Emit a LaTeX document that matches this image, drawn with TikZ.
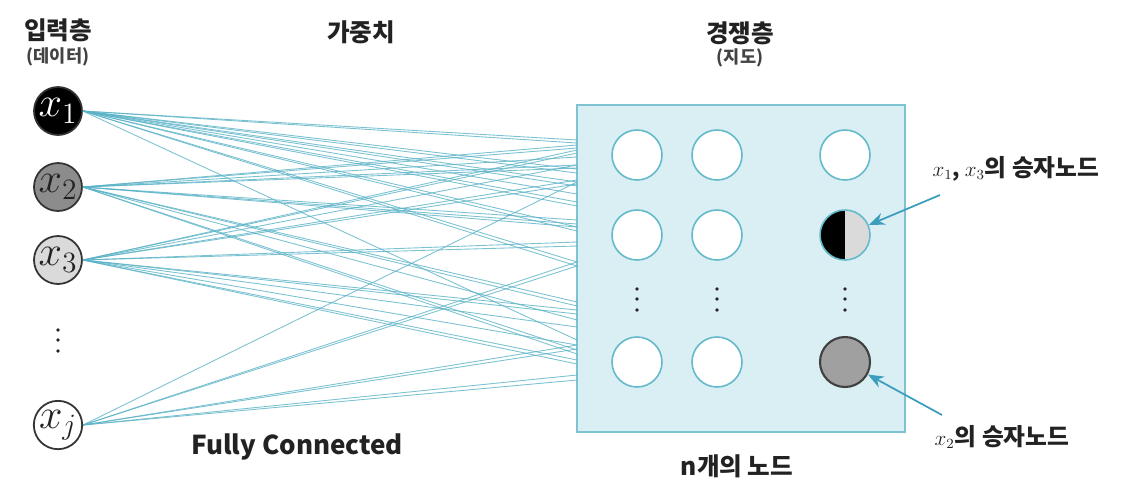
\RequirePackage{fix-cm}
\documentclass[tikz,border=0pt]{standalone}
\usepackage{fontspec}
\newfontfamily\kr{Noto Sans CJK KR}
\usetikzlibrary{arrows.meta}
\definecolor{wire}{RGB}{90,178,198}
\definecolor{boxfill}{RGB}{218,239,243}
\definecolor{boxline}{RGB}{125,195,210}
\definecolor{ring}{RGB}{100,185,202}
\definecolor{txt}{RGB}{34,34,34}
\definecolor{midgray}{RGB}{140,140,140}
\definecolor{lightg}{RGB}{218,218,218}
\definecolor{wingray}{RGB}{160,160,160}
\definecolor{ptr}{RGB}{60,158,190}
\tikzset{
  inp/.style={circle,draw=black!80,line width=1pt,minimum size=0.96cm,inner sep=0pt,font=\fontsize{24}{24}\selectfont},
  neuron/.style={circle,draw=ring,line width=0.9pt,fill=white,minimum size=1cm,inner sep=0pt},
  wireline/.style={draw=wire,line width=0.5pt,opacity=0.8},
  title/.style={font=\kr\bfseries\fontsize{14}{16}\selectfont,text=txt},
  sub/.style={font=\kr\bfseries\fontsize{10}{12}\selectfont,text=txt!85},
  pointer/.style={draw=ptr,line width=1pt,-{Stealth[length=9pt,width=7pt]}},
  dotmark/.style={fill=black!85}
}
\begin{document}
\begin{tikzpicture}[x=0.02cm,y=-0.02cm]
\useasboundingbox (0,0) rectangle (1128,488);
% box
\node[draw=boxline,fill=boxfill,line width=1pt,minimum width=6.56cm,minimum height=6.54cm,inner sep=0pt] (box) at (741,268.5) {};
% targets on box left edge
\foreach \t in {130,...,390}{
  \coordinate (t\t) at (577,\t);
}
% input nodes
\node[inp,fill=black,text=white] (x1) at (58,111) {$x_1$};
\node[inp,fill=midgray,text=txt] (x2) at (58,187) {$x_2$};
\node[inp,fill=lightg,text=txt] (x3) at (58,260) {$x_3$};
\node[inp,fill=white,text=txt] (xj) at (58,425) {$x_j$};
% wires
\foreach \t in {140,143,169,173,182,186,194,202,206,227,231,262,266,340}{\draw[wireline] (x1.east) -- (t\t);}
\foreach \t in {145,148,157,165,168,220,224,227,302,306,320,350,354}{\draw[wireline] (x2.east) -- (t\t);}
\foreach \t in {150,153,165,180,184,242,246,310,314,327,345,360,364}{\draw[wireline] (x3.east) -- (t\t);}
\foreach \t in {182,262,266,345,349,375,380}{\draw[wireline] (xj.east) -- (t\t);}
% dots input
\foreach \yy in {330,340,351}{\fill[dotmark] (58,\yy) circle[radius=1.9];}
% grid neurons
\node[neuron] (n11) at (637,155) {};
\node[neuron] (n12) at (717,155) {};
\node[neuron] (n13) at (845,155) {};
\node[neuron] (n21) at (637,235) {};
\node[neuron] (n22) at (717,235) {};
\node[neuron,fill=lightg,path picture={\fill[black] (path picture bounding box.north west) rectangle (path picture bounding box.south);}] (n23) at (845,235) {};
\node[neuron] (n41) at (637,362) {};
\node[neuron] (n42) at (717,362) {};
\node[neuron,fill=wingray,draw=black!75,line width=1.2pt] (n43) at (845,362) {};
\foreach \xx in {637,717,845}{\foreach \yy in {289,299,310}{\fill[dotmark] (\xx,\yy) circle[radius=1.9];}}
% labels
\node[title] (l1) at (58,30) {입력층};
\node[sub] (l1b) at (58,57) {(데이터)};
\node[title] (l2) at (361,32) {가중치};
\node[title] (l3) at (740,33) {경쟁층};
\node[sub] (l3b) at (740,58) {(지도)};
\node[font=\kr\bfseries\fontsize{14.8}{17}\selectfont,text=txt] (fc) at (297,447) {Fully Connected};
\node[title] (nn) at (737,466) {n개의 노드};
\node[title,font=\kr\bfseries\fontsize{13.5}{16}\selectfont] (w1) at (1016,169) {{\fontsize{12}{14}\selectfont$x_1$, $x_3$}의 승자노드};
\node[title,font=\kr\bfseries\fontsize{13.5}{16}\selectfont] (w2) at (1002,437) {{\fontsize{12}{14}\selectfont$x_2$}의 승자노드};
% pointers
\coordinate (p1) at (940,195);
\coordinate (p2) at (942,415);
\draw[pointer] (p1) -- (n23);
\draw[pointer] (p2) -- (n43);
\end{tikzpicture}
\end{document}
